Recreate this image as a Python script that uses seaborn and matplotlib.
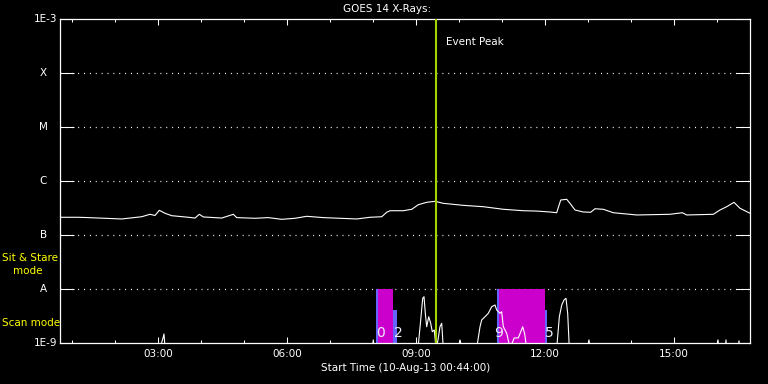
import numpy as np
import pandas as pd
import matplotlib
matplotlib.use("Agg")
import matplotlib.pyplot as plt
import matplotlib.transforms as mtransforms
import seaborn as sns

# ---------------- data (time in hours since 10-Aug-13 00:00) ----------------
long_hours = [0.733, 1.145, 1.385, 2.161, 2.626, 2.819, 2.936, 3.036, 3.168, 3.324,
              3.710, 3.866, 3.966, 4.059, 4.487, 4.757, 4.836, 5.261, 5.571, 5.882,
              6.192, 6.464, 6.850, 7.238, 7.626, 7.936, 8.208, 8.324, 8.401, 8.710,
              8.906, 9.059, 9.254, 9.448, 9.640, 10.106, 10.571, 11.036, 11.501, 11.813,
              12.122, 12.277, 12.371, 12.510, 12.587, 12.703, 12.896, 13.068, 13.168, 13.361,
              13.594, 14.138, 14.913, 15.199, 15.301, 15.920, 16.075, 16.231, 16.401, 16.541,
              16.773]
long_flux = [2.14e-7, 2.14e-7, 2.11e-7, 1.99e-7, 2.19e-7, 2.43e-7, 2.31e-7, 2.88e-7, 2.54e-7, 2.29e-7,
             2.14e-7, 2.07e-7, 2.43e-7, 2.17e-7, 2.07e-7, 2.43e-7, 2.11e-7, 2.05e-7, 2.11e-7, 1.96e-7,
             2.05e-7, 2.23e-7, 2.11e-7, 2.05e-7, 1.99e-7, 2.14e-7, 2.19e-7, 2.65e-7, 2.83e-7, 2.83e-7,
             3.01e-7, 3.66e-7, 4.05e-7, 4.23e-7, 3.88e-7, 3.56e-7, 3.36e-7, 3.01e-7, 2.83e-7, 2.79e-7,
             2.68e-7, 2.60e-7, 4.47e-7, 4.61e-7, 3.88e-7, 2.92e-7, 2.68e-7, 2.65e-7, 3.08e-7, 3.01e-7,
             2.60e-7, 2.36e-7, 2.43e-7, 2.60e-7, 2.36e-7, 2.43e-7, 2.92e-7, 3.36e-7, 4.05e-7, 3.14e-7,
             2.54e-7]

short_hours = [0.733, 3.052, 3.122, 3.145, 3.17, 7.99, 8.012, 8.03, 9.052, 9.115,
               9.161, 9.192, 9.222, 9.254, 9.301, 9.347, 9.384, 9.431, 9.470, 9.517,
               9.563, 9.603, 9.640, 10.01, 10.029, 10.075, 10.417, 10.494, 10.533, 10.610,
               10.687, 10.766, 10.843, 10.882, 10.959, 10.998, 11.036, 11.116, 11.192, 11.29,
               11.385, 11.487, 11.53, 11.580, 12.278, 12.339, 12.395, 12.447, 12.494, 12.533,
               12.571, 13.01, 13.029, 13.05, 16.01, 16.029, 16.05, 16.20, 16.215, 16.23,
               16.50, 16.517, 16.53, 16.773]
short_flux = [8e-10, 8e-10, 1.24e-9, 1.47e-9, 8e-10, 8e-10, 1.14e-9, 8e-10, 8e-10, 2.67e-9,
              6.74e-9, 7.22e-9, 3.55e-9, 2.00e-9, 3.07e-9, 2.32e-9, 1.62e-9, 1.74e-9, 8e-10, 1.14e-9,
              2.00e-9, 2.32e-9, 8e-10, 8e-10, 1.14e-9, 8e-10, 8e-10, 2.00e-9, 2.67e-9, 3.07e-9,
              3.55e-9, 4.71e-9, 5.06e-9, 4.09e-9, 3.55e-9, 3.80e-9, 2.00e-9, 1.51e-9, 8e-10, 1.24e-9,
              1.24e-9, 2.00e-9, 1.51e-9, 8e-10, 8e-10, 3.07e-9, 5.06e-9, 6.26e-9, 6.74e-9, 3.55e-9,
              8e-10, 8e-10, 1.14e-9, 8e-10, 8e-10, 1.14e-9, 8e-10, 8e-10, 1.14e-9, 8e-10,
              8e-10, 1.10e-9, 8e-10, 8e-10]

# observation bars: start, end (hours), top flux, kind
bar_start = [8.075, 8.122, 8.477, 10.896, 10.935, 12.005]
bar_end = [8.122, 8.477, 8.563, 10.935, 12.005, 12.063]
bar_top = [1e-8, 1e-8, 4.1e-9, 1e-8, 1e-8, 4.1e-9]
bar_kind = ["scan", "stare", "scan", "scan", "stare", "scan"]

bar_labels = ["0", "2", "9", "5"]
bar_label_hours = [8.175, 8.597, 10.92, 12.098]
bar_label_flux = 1.5e-9

event_peak = 9.47
x_start, x_end = 0.7333, 16.78
xtick_hours = [3, 6, 9, 12, 15]
xtick_labels = ["03:00", "06:00", "09:00", "12:00", "15:00"]
ylevels = [1e-9, 1e-8, 1e-7, 1e-6, 1e-5, 1e-4, 1e-3]
ylabels = ["1E-9", "A", "B", "C", "M", "X", "1E-3"]

# ---------------- plot ----------------
sns.set_style("dark")
plt.rcParams['font.family'] = ['DejaVu Sans']
W, H = 768, 384
fig = plt.figure(figsize=(7.68, 3.84), dpi=100, facecolor='black')
L, R, T, B = 60.3, 750.3, 19.3, 343.0
ax = fig.add_axes([L / W, 1 - B / H, (R - L) / W, (B - T) / H])
ax.set_facecolor('black')
ax.set_yscale('log')
ax.set_ylim(1e-9, 1e-3)
ax.set_xlim(x_start, x_end)
ax.grid(False)

for s in ax.spines.values():
    s.set_color('white')
    s.set_linewidth(0.9)

# grid dotted lines at class levels
for lv in ylevels[1:-1]:
    ax.axhline(lv, color='white', lw=0.9, linestyle=(0, (0.8, 3.9)), zorder=1)

# bars
colors = {"scan": "#6464ff", "stare": "#cc00cc"}
for s0, e0, tp, k in zip(bar_start, bar_end, bar_top, bar_kind):
    ax.bar(s0, tp - 1e-10, bottom=1e-10, width=e0 - s0, align='edge',
           color=colors[k], linewidth=0, zorder=2)

# curves
df_long = pd.DataFrame({"t": long_hours, "f": long_flux})
df_short = pd.DataFrame({"t": short_hours, "f": short_flux})
sns.lineplot(data=df_long, x="t", y="f", ax=ax, color='white', lw=0.8,
             estimator=None, sort=False, zorder=3)
sns.lineplot(data=df_short, x="t", y="f", ax=ax, color='white', lw=0.8,
             estimator=None, sort=False, zorder=3)

for lab, hx in zip(bar_labels, bar_label_hours):
    ax.text(hx, bar_label_flux, lab, color='#eeeeff', fontsize=10,
            ha='center', va='center', zorder=4)

ax.axvline(event_peak, color='#a4d400', lw=1.5, zorder=5)
ax.annotate("Event Peak", xy=(event_peak, 1), xycoords=('data', 'axes fraction'),
            xytext=(7.5, -16.7), textcoords='offset points', color='white',
            fontsize=7.5, ha='left', va='center')

# ticks
ax.set_xticks(xtick_hours)
ax.set_xticklabels(xtick_labels)
ax.set_xticks(np.arange(1, 17), minor=True)
ax.tick_params(axis='x', which='major', direction='in', length=4.3, width=0.75,
               colors='white', top=True, bottom=True, labelsize=7.5, pad=4.5)
ax.tick_params(axis='x', which='minor', direction='in', length=2.2, width=0.75,
               colors='white', top=True, bottom=True)
ax.set_yticks(ylevels)
ax.set_yticklabels([])
ax.yaxis.set_minor_locator(matplotlib.ticker.NullLocator())
ax.tick_params(axis='y', which='major', direction='in', length=10.1, width=0.75,
               colors='white', left=True, right=True)

trans = mtransforms.blended_transform_factory(fig.transFigure, ax.transData)
for lv, lab in zip(ylevels, ylabels):
    if lab.startswith("1E"):
        ax.text(57.3 / W, lv, lab, transform=trans, color='white', fontsize=7.5,
                ha='right', va='center')
    else:
        ax.text(43.5 / W, lv, lab, transform=trans, color='white', fontsize=7.5,
                ha='center', va='center')

ax.set_xlabel("Start Time (10-Aug-13 00:44:00)", color='white', fontsize=7.5)
ax.xaxis.set_label_coords(0.5, (B - 368) / (B - T))
ax.xaxis.label.set_va('center')
ax.set_ylabel("")

fig.text(387 / W, 1 - 9 / H, "GOES 14 X-Rays:", color='white', fontsize=7.5,
         ha='center', va='center')
fig.text(2 / W, 1 - 258 / H, "Sit & Stare", color='#ffff00', fontsize=7.5,
         ha='left', va='center')
fig.text(12.7 / W, 1 - 271.5 / H, "mode", color='#ffff00', fontsize=7.5,
         ha='left', va='center')
fig.text(2 / W, 1 - 323 / H, "Scan mode", color='#ffff00', fontsize=7.5,
         ha='left', va='center')

fig.savefig("out.png", dpi=100, facecolor='black')
